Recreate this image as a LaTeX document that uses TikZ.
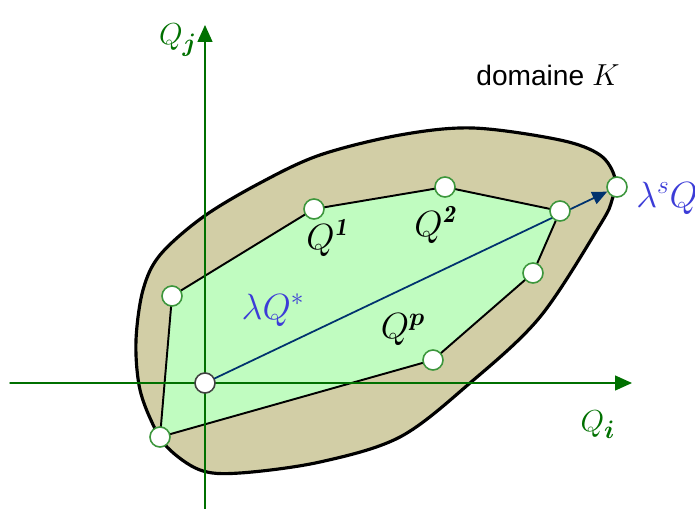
\documentclass[tikz,border=0pt]{standalone}
\usepackage{amsmath,amssymb}
\usepackage{fontspec}
\newfontfamily\arialfont{Liberation Sans}
\usepackage{xcolor}
\usepackage{tikz}
\usetikzlibrary{arrows.meta}

\definecolor{domtan}{RGB}{210,206,166}
\definecolor{polygreen}{RGB}{192,252,192}
\definecolor{axisgreen}{RGB}{0,112,0}
\definecolor{ptgreen}{RGB}{60,150,60}
\definecolor{arrowblue}{RGB}{0,50,110}
\definecolor{lblblue}{RGB}{60,60,215}

\begin{document}
\begin{tikzpicture}[>=Stealth, line cap=round, line join=round,
    pt/.style={circle, fill=white, draw=ptgreen, line width=0.9pt, minimum size=0.4cm, inner sep=0pt},
    qlabel/.style={font=\fontsize{20}{24}\selectfont},
    axlabel/.style={text=axisgreen, font=\fontsize{19}{22}\selectfont}]
    \useasboundingbox (0,0) rectangle (13.9,10.18);

    % Domain K
    \filldraw[fill=domtan, line width=1.8pt] plot[smooth cycle, tension=0.55] coordinates {
        (2.72,3.38) (2.86,4.38) (3.20,5.08) (4.06,5.84) (5.20,6.52)
        (6.40,7.08) (8.00,7.48) (9.46,7.62) (11.20,7.38) (12.00,7.08)
        (12.30,6.62) (12.24,6.18) (12.00,5.68) (10.80,3.84) (9.40,2.52)
        (8.00,1.44) (6.40,0.94) (4.80,0.72) (4.00,0.78) (3.34,1.24)
        (3.00,1.82) (2.78,2.48)
    };

    % Polygon vertices
    \coordinate (v1) at (3.20,1.44);
    \coordinate (v2) at (3.44,4.26);
    \coordinate (v3) at (6.28,6.00);
    \coordinate (v4) at (8.90,6.44);
    \coordinate (v5) at (11.20,5.96);
    \coordinate (v6) at (10.66,4.72);
    \coordinate (v7) at (8.66,2.98);
    \filldraw[fill=polygreen, line width=1.1pt]
        (v1) -- (v2) -- (v3) -- (v4) -- (v5) -- (v6) -- (v7) -- cycle;

    % Axes
    \coordinate (xstart) at (0.20,2.52);
    \coordinate (xend) at (12.64,2.52);
    \coordinate (ystart) at (4.10,-0.10);
    \coordinate (yend) at (4.10,9.68);
    \draw[axisgreen, line width=0.8pt, -{Triangle[length=0.34cm, width=0.3cm]}] (xstart) -- (xend);
    \draw[axisgreen, line width=0.8pt, -{Triangle[length=0.34cm, width=0.3cm]}] (ystart) -- (yend);
    \node[axlabel] (qi) at (11.96,1.68) {$Q_{\boldsymbol{i}}$};
    \node[axlabel] (qj) at (3.56,9.38) {$Q_{\boldsymbol{j}}$};

    % Ray from the origin
    \node[pt, draw=darkgray] (O) at (4.10,2.52) {};
    \node[pt] (qs) at (12.34,6.44) {};
    \draw[arrowblue, line width=1pt, -{Triangle[length=0.3cm, width=0.26cm]}] (O) -- (qs);

    % Vertices
    \foreach \v in {v1,v2,v3,v4,v5,v6,v7}{
        \node[pt] at (\v) {};
    }

    % Labels
    \node[qlabel] (q1) at (6.54,5.42) {$Q^{\boldsymbol{\mathit{1}}}$};
    \node[qlabel] (q2) at (8.70,5.68) {$Q^{\boldsymbol{\mathit{2}}}$};
    \node[qlabel] (qp) at (8.06,3.58) {$Q^{\boldsymbol{p}}$};
    \node[qlabel, text=lblblue] (lq) at (5.46,3.98) {$\lambda Q^*$};
    \node[qlabel, text=lblblue, anchor=west, inner sep=0pt] (lsq) at (12.72,6.22) {$\lambda^s Q^*$};
    \node[font=\arialfont\fontsize{16}{19}\selectfont] (dom) at (10.96,8.68) {domaine $K$};
\end{tikzpicture}
\end{document}
